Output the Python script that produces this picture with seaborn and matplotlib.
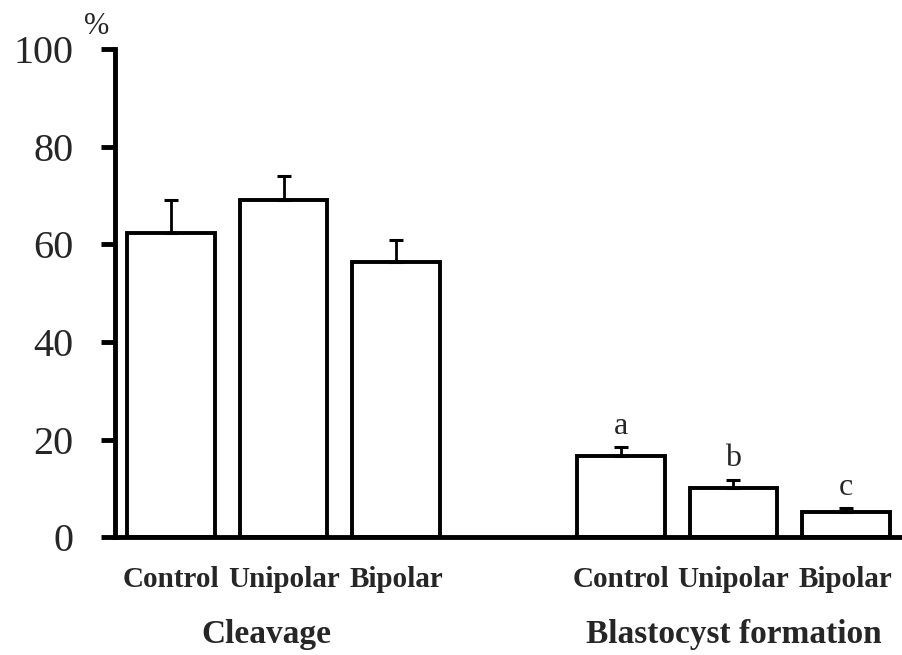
import matplotlib
matplotlib.use("Agg")
import matplotlib.pyplot as plt
import matplotlib.transforms as mtrans
import seaborn as sns
import pandas as pd
import numpy as np

groups = ["Cleavage", "Cleavage", "Cleavage",
          "Blastocyst formation", "Blastocyst formation", "Blastocyst formation"]
treatments = ["Control", "Unipolar", "Bipolar", "Control", "Unipolar", "Bipolar"]
means = [62.4, 69.0, 56.3, 16.6, 10.0, 5.1]
errors = [6.6, 5.1, 4.5, 1.8, 1.7, 0.8]
letters = ["", "", "", "a", "b", "c"]
yticks = [0, 20, 40, 60, 80, 100]

keys = [f"{g}|{t}" for g, t in zip(groups, treatments)]
order = keys[:3] + ["gap"] + keys[3:]
df = pd.DataFrame({"key": keys, "value": means})

sns.set_theme(style="white")
plt.rcParams["font.family"] = ["Liberation Serif", "DejaVu Serif"]

fig = plt.figure(figsize=(9.02, 6.55), dpi=100)
ax = fig.add_axes([0.1275, 0.18, 0.8725, 0.745])

sns.barplot(data=df, x="key", y="value", order=order, color="white",
            edgecolor="black", linewidth=2.8, width=0.78, errorbar=None,
            saturation=1, ax=ax)

xpos = [order.index(k) for k in keys]
ax.errorbar(xpos, means, yerr=[np.zeros(len(errors)), errors], fmt="none",
            ecolor="black", elinewidth=2.0, capsize=5, capthick=2.2, zorder=1)

for x, m, e, l in zip(xpos, means, errors, letters):
    if l:
        ax.text(x, m + e + 2.8, l, ha="center", va="baseline", fontsize=23)

ax.set_xlim(-0.5, 6.5)
ax.set_ylim(0, 100)
ax.set_yticks(yticks)
ax.set_yticklabels([str(v) for v in yticks], fontsize=29)
ax.set_xticks(xpos)
ax.set_xticklabels(treatments, fontsize=21, fontweight="bold")
ax.tick_params(axis="y", length=10, width=3.5, color="black", pad=20, direction="out", left=True)
ax.tick_params(axis="x", length=0, pad=21)
ax.set_xlabel("")
ax.set_ylabel("")

for s in ["top", "right"]:
    ax.spines[s].set_visible(False)
for s in ["left", "bottom"]:
    ax.spines[s].set_color("black")
    ax.spines[s].set_linewidth(3.5)

trans = mtrans.blended_transform_factory(ax.transData, fig.transFigure)
ax.text(np.mean(xpos[:3]) - 0.15, 1 - 634 / 655, "Cleavage", transform=trans,
        ha="center", va="center", fontsize=24, fontweight="bold")
ax.text(np.mean(xpos[3:]), 1 - 634 / 655, "Blastocyst formation", transform=trans,
        ha="center", va="center", fontsize=24, fontweight="bold")

fig.text(97 / 902, 1 - 26 / 655, "%", ha="center", va="center", fontsize=22)

fig.savefig("out.png", dpi=100)
